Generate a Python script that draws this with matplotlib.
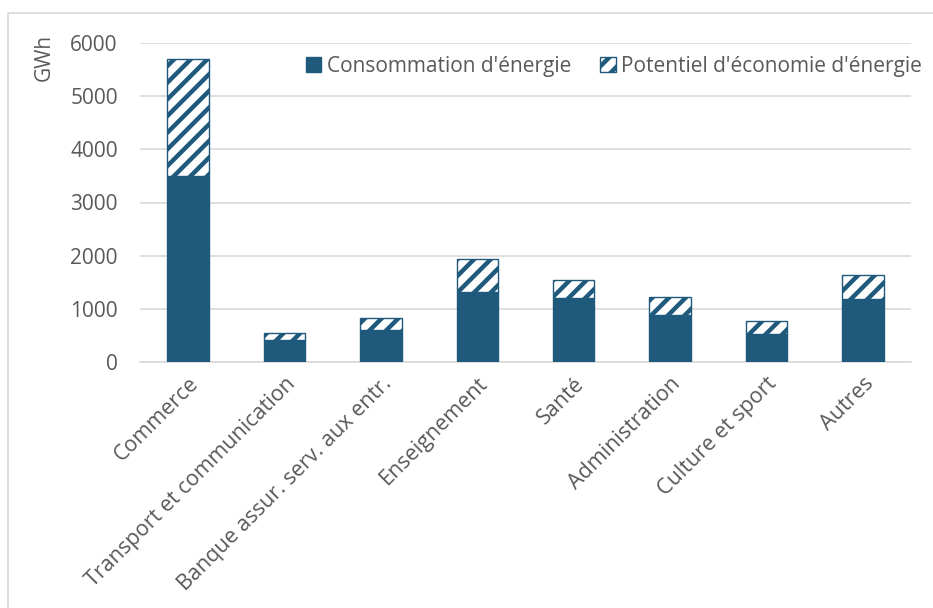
"""Energy consumption and saving potential by sector (stacked bars)."""
import matplotlib.pyplot as plt
from matplotlib.patches import Rectangle

plt.rcParams["font.family"] = ["Open Sans", "DejaVu Sans"]
plt.rcParams["hatch.linewidth"] = 3.2

# data (GWh)
sectors = [
    "Commerce",
    "Transport et communication",
    "Banque assur. serv. aux entr.",
    "Enseignement",
    "Santé",
    "Administration",
    "Culture et sport",
    "Autres",
]
consommation = [3500, 420, 600, 1320, 1200, 880, 520, 1180]
potentiel = [2200, 130, 230, 620, 350, 340, 250, 450]
yticks = [0, 1000, 2000, 3000, 4000, 5000, 6000]

BLUE = "#1F5A7D"
GREY_TXT = "#595959"
GRID = "#D9D9D9"
FS = 15

fig = plt.figure(figsize=(9.33, 6.08), dpi=100)
ax = fig.add_axes([140 / 933, 1 - 362 / 608, (911 - 140) / 933, (362 - 43) / 608])

x = range(len(sectors))
ax.bar(x, consommation, width=0.43, color=BLUE, edgecolor=BLUE, linewidth=1,
       label="Consommation d'énergie", zorder=3)
ax.bar(x, potentiel, width=0.43, bottom=consommation, color="white", edgecolor=BLUE,
       hatch="//", linewidth=1, label="Potentiel d'économie d'énergie", zorder=3)

ax.set_xlim(-0.5, len(sectors) - 0.5)
ax.set_ylim(0, 6000)
ax.set_yticks(yticks)
ax.set_xticks(list(x))
ax.set_xticklabels(sectors, rotation=45, ha="right", rotation_mode="anchor")
ax.tick_params(axis="both", length=0, colors=GREY_TXT, labelsize=FS)
ax.tick_params(axis="x", labelsize=15.5, pad=8)
ax.tick_params(axis="y", pad=16)
ax.grid(axis="y", color=GRID, linewidth=1.2, zorder=0)
for side in ["top", "right", "left"]:
    ax.spines[side].set_visible(False)
ax.spines["bottom"].set_color(GRID)
ax.spines["bottom"].set_linewidth(1.2)

ax.set_ylabel("GWh", color=GREY_TXT, fontsize=FS)
ax.yaxis.set_label_coords(-0.11, 0.955)

leg = ax.legend(loc="upper right", bbox_to_anchor=(1.025, 0.985), ncol=2, frameon=False,
                fontsize=FS, labelcolor=GREY_TXT, handlelength=0.75, handleheight=0.75,
                handletextpad=0.25, columnspacing=1.4, borderaxespad=0)

# outer chart border
fig.patches.append(Rectangle((8 / 933, -0.01), 1.0, 1 - 13 / 608 + 0.01,
                             transform=fig.transFigure, fill=False,
                             edgecolor=GRID, linewidth=1.2))

fig.savefig("out.png", dpi=100)
